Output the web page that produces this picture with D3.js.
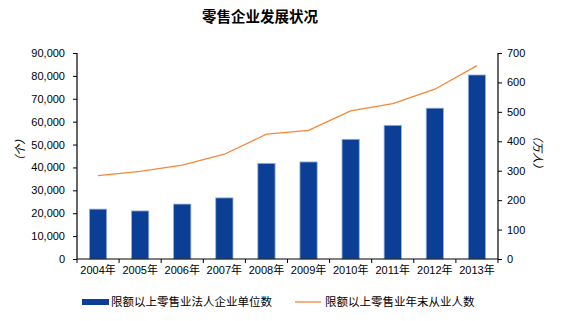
<!DOCTYPE html>
<html><head><meta charset="utf-8">
<script src="https://cdn.jsdelivr.net/npm/d3@7"></script>
<style>body{margin:0;background:#fff}svg{display:block}text{font-family:"Liberation Sans","Noto Sans CJK SC",Arial,sans-serif}</style>
</head><body>
<script>
const title = "零售企业发展状况";
const categories = ["2004年","2005年","2006年","2007年","2008年","2009年","2010年","2011年","2012年","2013年"];
const enterprises = [21800, 21000, 24000, 26700, 41800, 42400, 52300, 58400, 65900, 80400];
const employees = [283, 298, 319, 356, 424, 437, 503, 528, 577, 657];
const leftTicks = [0,10000,20000,30000,40000,50000,60000,70000,80000,90000];
const rightTicks = [0,100,200,300,400,500,600,700];
const seriesNames = ["限额以上零售业法人企业单位数","限额以上零售业年末从业人数"];
const leftUnit = "（个）", rightUnit = "（万人）";

const W=567,H=321, L=77, R=498, T=53, B=259;
const svg=d3.select("body").append("svg").attr("width",W).attr("height",H);
const x=d3.scaleBand().domain(categories).range([L,R]).paddingInner(0.59).paddingOuter(0.295);
const xb=d3.scaleBand().domain(categories).range([L,R]);
const yL=d3.scaleLinear().domain([0,90000]).range([B,T]);
const yR=d3.scaleLinear().domain([0,700]).range([B,T]);
const blue="#0B3F96", orange="#F5873A";
const font='"Liberation Sans","Noto Sans CJK SC",Arial,sans-serif';

svg.append("text").attr("x",260).attr("y",22).attr("text-anchor","middle")
  .style("font-size","14.5px").style("font-weight","bold").style("font-family",'"Noto Sans CJK SC",sans-serif').text(title);

svg.selectAll("rect.bar").data(enterprises).join("rect").attr("class","bar")
  .attr("x",(d,i)=>x(categories[i])).attr("width",x.bandwidth())
  .attr("y",d=>yL(d)).attr("height",d=>B-yL(d))
  .attr("fill",blue).attr("stroke","#9DB1D6").attr("stroke-width",0.8);

const line=d3.line().x((d,i)=>xb(categories[i])+xb.bandwidth()/2).y(d=>yR(d));
svg.append("path").datum(employees).attr("d",line).attr("fill","none").attr("stroke",orange).attr("stroke-width",1.3);

const fmt=d3.format(",");
const gl=svg.append("g").attr("transform",`translate(${L},0)`).call(d3.axisLeft(yL).tickValues(leftTicks).tickFormat(fmt).tickSize(4).tickPadding(8));
const gr=svg.append("g").attr("transform",`translate(${R},0)`).call(d3.axisRight(yR).tickValues(rightTicks).tickSize(4).tickPadding(5));
const gx=svg.append("g").attr("transform",`translate(0,${B})`).call(d3.axisBottom(xb).tickSize(0).tickPadding(7));
const seps=categories.map(c=>xb(c)).concat([R]);
gx.selectAll("line.sep").data(seps).join("line").attr("class","sep").attr("x1",d=>d).attr("x2",d=>d).attr("y1",0).attr("y2",4).attr("stroke","#000");
[gl,gr,gx].forEach(g=>{g.selectAll("path.domain").attr("stroke","#000").attr("stroke-width",1.2);g.selectAll("line").attr("stroke","#000");g.selectAll("text").style("font-size","11px").style("font-family",font).attr("fill","#000");});
gl.select("path.domain").attr("d",`M0,${T}V${B}`);
gr.select("path.domain").attr("d",`M0,${T}V${B}`);
gx.select("path.domain").attr("d",`M${L},0H${R}`);
gx.selectAll("text").attr("dy","0.71em");

svg.append("text").attr("transform","translate(20,150) rotate(-90)").attr("text-anchor","middle").attr("dy","0.35em")
  .style("font-size","11px").style("font-style","italic").text(leftUnit);
svg.append("text").attr("transform","translate(538,152) rotate(90)").attr("text-anchor","middle").attr("dy","0.35em")
  .style("font-size","11px").style("font-style","italic").text(rightUnit);

const lg=svg.append("g");
lg.append("rect").attr("x",82).attr("y",299).attr("width",27).attr("height",6).attr("fill",blue);
lg.append("text").attr("x",111).attr("y",302).attr("dy","0.35em").style("font-size","11.5px").style("font-family",'"Noto Sans CJK SC",sans-serif').text(seriesNames[0]);
lg.append("line").attr("x1",295).attr("x2",321).attr("y1",302).attr("y2",302).attr("stroke",orange).attr("stroke-width",1.3);
lg.append("text").attr("x",325).attr("y",302).attr("dy","0.35em").style("font-size","11.5px").style("font-family",'"Noto Sans CJK SC",sans-serif').text(seriesNames[1]);
</script>
</body></html>
